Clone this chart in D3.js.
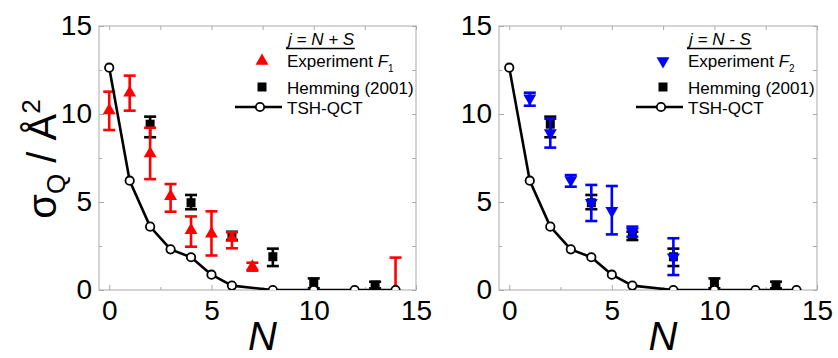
<!DOCTYPE html>
<html>
<head>
<meta charset="utf-8">
<script src="https://cdn.jsdelivr.net/npm/d3@7"></script>
<style>
  html, body { margin: 0; padding: 0; background: #fff; }
  svg { display: block; font-family: "Liberation Sans", Arial, sans-serif; }
</style>
</head>
<body>
<svg id="chart" width="838" height="358"></svg>
<script>
// Theory: TSH-QCT cross sections (same in both panels)
const tshN = [0, 1, 2, 3, 4, 5, 6, 8, 10, 12, 14];
const tshSigma = [12.63, 6.21, 3.60, 2.31, 1.86, 0.87, 0.25, 0, 0, 0, 0];

// Hemming (2001) values with error-bar ends
const hemN = [2, 4, 6, 8, 10, 13];
const hemSigma = [9.42, 4.96, 3.05, 1.89, 0.38, 0.28];
const hemLo = [8.68, 4.59, 2.84, 1.36, 0.10, 0.09];
const hemHi = [9.85, 5.40, 3.31, 2.35, 0.66, 0.47];

// Experiment F1 (j = N + S)
const f1N = [0, 1, 2, 3, 4, 5, 6, 7, 14];
const f1Sigma = [10.2, 11.2, 7.75, 5.33, 3.40, 3.20, 2.95, 1.32, 0];
const f1Lo = [9.09, 10.19, 6.30, 4.45, 2.46, 1.96, 2.37, 1.10, -1.84];
const f1Hi = [11.27, 12.18, 9.22, 6.02, 4.18, 4.47, 3.28, 1.55, 1.84];

// Experiment F2 (j = N - S)
const f2N = [1, 2, 3, 4, 5, 6, 8];
const f2Sigma = [10.89, 8.92, 6.25, 4.96, 4.50, 3.31, 1.86];
const f2Lo = [10.47, 8.09, 5.87, 3.92, 3.16, 3.03, 0.85];
const f2Hi = [11.21, 9.73, 6.53, 5.97, 5.91, 3.60, 2.94];

const xMajor = [0, 5, 10, 15];
const xMinor = [2.5, 7.5, 12.5];
const yMajor = [0, 5, 10, 15];
const yMinor = [2.5, 7.5, 12.5];

const svg = d3.select("#chart");
const frameColor = "#a9a9a9";

const panels = [
  {
    id: "p1", left: 99, right: 416, header: ["j", " = ", "N", " + ", "S"],
    expLabel: "1", color: "#ff0000", down: false, yTitle: true,
    expN: f1N, expS: f1Sigma, expLo: f1Lo, expHi: f1Hi
  },
  {
    id: "p2", left: 499, right: 817, header: ["j", " = ", "N", " - ", "S"],
    expLabel: "2", color: "#0000ff", down: true, yTitle: false,
    expN: f2N, expS: f2Sigma, expLo: f2Lo, expHi: f2Hi
  }
];

const plotTop = 26, plotBottom = 290;

panels.forEach(p => {
  const x = d3.scaleLinear().domain([-0.5, 15]).range([p.left, p.right]);
  const y = d3.scaleLinear().domain([0, 15]).range([plotBottom, plotTop]);
  const g = svg.append("g");

  // clip region = plot frame
  svg.append("clipPath").attr("id", "clip-" + p.id)
    .append("rect").attr("x", p.left).attr("y", plotTop)
    .attr("width", p.right - p.left).attr("height", plotBottom - plotTop);

  // axes: labelled majors outside, inward ticks on all four sides
  const styleAxis = sel => {
    sel.select(".domain").remove();
    sel.selectAll(".tick line").attr("stroke", frameColor);
    sel.selectAll(".tick text").attr("fill", "#000").attr("font-size", 28)
      .attr("font-family", "Liberation Sans, Arial, sans-serif");
  };
  g.append("g").attr("transform", `translate(0,${plotBottom})`)
    .call(d3.axisBottom(x).tickValues(xMajor).tickSize(-5).tickPadding(10).tickFormat(d3.format("d")))
    .call(styleAxis);
  g.append("g").attr("transform", `translate(0,${plotBottom})`)
    .call(d3.axisBottom(x).tickValues(xMinor).tickSize(-3).tickFormat(""))
    .call(styleAxis);
  g.append("g").attr("transform", `translate(0,${plotTop})`)
    .call(d3.axisTop(x).tickValues(xMajor.concat(xMinor)).tickSize(-4).tickFormat(""))
    .call(styleAxis);
  g.append("g").attr("transform", `translate(${p.left},0)`)
    .call(d3.axisLeft(y).tickValues(yMajor).tickSize(-5).tickPadding(7).tickFormat(d3.format("d")))
    .call(styleAxis);
  g.append("g").attr("transform", `translate(${p.left},0)`)
    .call(d3.axisLeft(y).tickValues(yMinor).tickSize(-3).tickFormat(""))
    .call(styleAxis);
  g.append("g").attr("transform", `translate(${p.right},0)`)
    .call(d3.axisRight(y).tickValues(yMajor.concat(yMinor)).tickSize(-4).tickFormat(""))
    .call(styleAxis);

  // frame
  g.append("rect").attr("x", p.left).attr("y", plotTop)
    .attr("width", p.right - p.left).attr("height", plotBottom - plotTop)
    .attr("fill", "none").attr("stroke", frameColor).attr("stroke-width", 1);

  const plot = g.append("g").attr("clip-path", `url(#clip-${p.id})`);

  const capW = 6;
  const drawErr = (layer, N, lo, hi, color) => {
    const eg = layer.append("g").attr("stroke", color).attr("stroke-width", 2.6).attr("fill", "none");
    N.forEach((n, i) => {
      const cx = x(n);
      eg.append("line").attr("x1", cx).attr("x2", cx).attr("y1", y(lo[i])).attr("y2", y(hi[i]));
      eg.append("line").attr("x1", cx - capW).attr("x2", cx + capW).attr("y1", y(lo[i])).attr("y2", y(lo[i]));
      eg.append("line").attr("x1", cx - capW).attr("x2", cx + capW).attr("y1", y(hi[i])).attr("y2", y(hi[i]));
    });
  };

  // Hemming (2001)
  drawErr(plot, hemN, hemLo, hemHi, "#000");
  plot.selectAll(".hem").data(hemN).join("path")
    .attr("d", d3.symbol(d3.symbolSquare, 81))
    .attr("transform", (d, i) => `translate(${x(d)},${y(hemSigma[i])})`)
    .attr("fill", "#000");

  // Experiment
  drawErr(plot, p.expN, p.expLo, p.expHi, p.color);
  const triPath = d3.symbol(d3.symbolTriangle, 72)();
  plot.selectAll(".exp").data(p.expN).join("path")
    .attr("d", triPath)
    .attr("transform", (d, i) => `translate(${x(d)},${y(p.expS[i])})` + (p.down ? " rotate(180)" : ""))
    .attr("fill", p.color);

  // TSH-QCT line with open circles
  const line = d3.line().x((d, i) => x(d)).y((d, i) => y(tshSigma[i]));
  plot.append("path").datum(tshN).attr("d", line)
    .attr("fill", "none").attr("stroke", "#000").attr("stroke-width", 2.6).attr("stroke-linejoin", "round");
  plot.selectAll(".tsh").data(tshN).join("circle")
    .attr("cx", d => x(d)).attr("cy", (d, i) => y(tshSigma[i])).attr("r", 4.2)
    .attr("fill", "#fff").attr("stroke", "#000").attr("stroke-width", 1.8);

  // x-axis title
  g.append("text").attr("x", (p.left + p.right) / 2 + 5).attr("y", 350)
    .attr("text-anchor", "middle").attr("font-size", 40).attr("font-style", "italic")
    .text("N");

  // legend
  const R = p.right;
  const tx = R - 129;
  const fs = 17;
  const hdr = g.append("text").attr("x", tx + 1).attr("y", 45).attr("font-size", fs)
    .attr("font-style", "italic").attr("fill", "#000").style("white-space", "pre");
  hdr.selectAll("tspan").data(p.header).join("tspan").text(d => d);
  const hb = hdr.node().getBBox();
  g.append("line").attr("x1", hb.x).attr("x2", hb.x + hb.width).attr("y1", 48.5).attr("y2", 48.5)
    .attr("stroke", "#000").attr("stroke-width", 1.3);

  const mx = R - 154;
  g.append("path").attr("d", triPath)
    .attr("transform", `translate(${mx},61)` + (p.down ? " rotate(180)" : ""))
    .attr("fill", p.color);
  const t1 = g.append("text").attr("x", tx).attr("y", 67).attr("font-size", fs).attr("fill", "#000");
  t1.append("tspan").text("Experiment ");
  t1.append("tspan").attr("font-style", "italic").text("F");
  t1.append("tspan").attr("font-size", 10).attr("dy", 5).text(p.expLabel);

  g.append("path").attr("d", d3.symbol(d3.symbolSquare, 81))
    .attr("transform", `translate(${mx},87)`).attr("fill", "#000");
  g.append("text").attr("x", tx).attr("y", 93.5).attr("font-size", fs).attr("fill", "#000")
    .text("Hemming (2001)");

  g.append("line").attr("x1", R - 181).attr("x2", R - 134).attr("y1", 107).attr("y2", 107)
    .attr("stroke", "#000").attr("stroke-width", 2.6);
  g.append("circle").attr("cx", R - 156).attr("cy", 107).attr("r", 4.2)
    .attr("fill", "#fff").attr("stroke", "#000").attr("stroke-width", 1.8);
  g.append("text").attr("x", tx).attr("y", 113.5).attr("font-size", fs).attr("fill", "#000")
    .text("TSH-QCT");

  // y-axis title (left panel only)
  if (p.yTitle) {
    const yt = svg.append("text").attr("transform", "translate(56,159) rotate(-90)")
      .attr("text-anchor", "middle").attr("font-size", 40).attr("fill", "#000")
      .style("white-space", "pre");
    yt.append("tspan").text("σ");
    yt.append("tspan").attr("font-size", 26).attr("dy", 9).text("Q");
    yt.append("tspan").attr("dy", -9).text(" / Å");
    yt.append("tspan").attr("font-size", 26).attr("dy", -16).text("2");
  }
});
</script>
</body>
</html>
